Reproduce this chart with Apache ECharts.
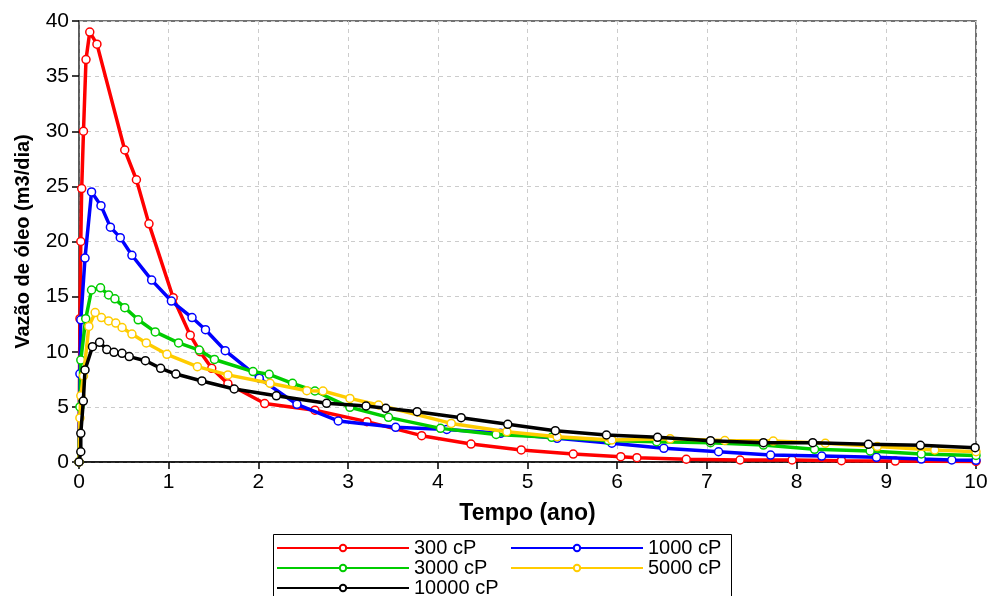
<!DOCTYPE html>
<html>
<head>
<meta charset="utf-8">
<script src="https://cdn.jsdelivr.net/npm/echarts@6/dist/echarts.min.js"></script>
<style>
html,body{margin:0;padding:0;background:#fff;}
#chart{width:992px;height:596px;}
</style>
</head>
<body>
<div id="chart"></div>
<script>
const seriesNames = ['300 cP', '1000 cP', '3000 cP', '5000 cP', '10000 cP'];
const legendRows = [['300 cP', '1000 cP'], ['3000 cP', '5000 cP'], ['10000 cP']];
const xTicks = [0,1,2,3,4,5,6,7,8,9,10];
const yTicks = [0,5,10,15,20,25,30,35,40];

const visc300 = [[0,0],[0.01,13],[0.02,20],[0.03,24.8],[0.05,30],[0.078,36.5],[0.12,39],[0.2,37.9],[0.51,28.3],[0.64,25.6],[0.78,21.6],[1.05,14.9],[1.24,11.5],[1.35,10.0],[1.48,8.5],[1.66,7.1],[2.07,5.3],[2.63,4.7],[3.21,3.66],[3.82,2.39],[4.37,1.63],[4.93,1.09],[5.51,0.72],[6.04,0.48],[6.22,0.39],[6.77,0.25],[7.37,0.18],[7.95,0.18],[8.5,0.12],[9.1,0.08],[10,0.05]];
const visc1000 = [[0,0],[0.01,8],[0.02,12.9],[0.067,18.5],[0.14,24.5],[0.245,23.25],[0.35,21.3],[0.46,20.35],[0.59,18.75],[0.81,16.5],[1.03,14.6],[1.26,13.1],[1.41,12.0],[1.63,10.1],[2.01,7.6],[2.43,5.23],[2.89,3.72],[3.53,3.15],[4.1,2.95],[4.7,2.6],[5.33,2.15],[5.94,1.7],[6.52,1.24],[7.13,0.93],[7.71,0.63],[8.28,0.54],[8.89,0.42],[9.39,0.27],[9.73,0.18],[10,0.15]];
const visc3000 = [[0,0],[0.01,5],[0.02,9.25],[0.075,13.0],[0.14,15.6],[0.24,15.8],[0.33,15.15],[0.4,14.8],[0.51,14.0],[0.66,12.9],[0.85,11.8],[1.11,10.8],[1.34,10.15],[1.51,9.3],[1.94,8.2],[2.12,7.95],[2.38,7.14],[2.63,6.44],[3.02,4.96],[3.45,4.05],[4.03,3.05],[4.65,2.5],[5.27,2.24],[5.9,1.95],[6.44,1.84],[7.04,1.75],[7.63,1.54],[8.2,1.15],[8.82,1.0],[9.39,0.73],[10,0.6]];
const visc5000 = [[0,0],[0.01,4],[0.02,6],[0.05,7.8],[0.11,12.3],[0.18,13.55],[0.25,13.1],[0.33,12.8],[0.41,12.6],[0.48,12.2],[0.59,11.6],[0.75,10.8],[0.98,9.77],[1.32,8.65],[1.66,7.9],[2.13,7.14],[2.54,6.47],[2.72,6.44],[3.02,5.77],[3.34,5.17],[4.15,3.5],[4.77,2.75],[5.33,2.3],[5.94,2.0],[6.59,2.1],[7.2,1.95],[7.74,1.9],[8.32,1.7],[8.9,1.4],[9.54,1.09],[10,0.93]];
const visc10000 = [[0,0],[0.02,0.93],[0.02,2.6],[0.048,5.53],[0.067,8.35],[0.15,10.46],[0.23,10.86],[0.31,10.2],[0.39,9.95],[0.48,9.86],[0.56,9.56],[0.74,9.19],[0.91,8.5],[1.08,7.98],[1.37,7.35],[1.73,6.62],[2.2,6.0],[2.76,5.32],[3.2,5.08],[3.42,4.87],[3.77,4.56],[4.26,4.02],[4.78,3.42],[5.31,2.84],[5.88,2.45],[6.45,2.24],[7.04,1.93],[7.63,1.75],[8.18,1.75],[8.8,1.6],[9.38,1.51],[9.99,1.3]];

const allData = [visc300, visc1000, visc3000, visc5000, visc10000];
const colors = ['#ff0000', '#0000ff', '#00cc00', '#ffcc00', '#000000'];

const chart = echarts.init(document.getElementById('chart'), null, {renderer: 'canvas'});
const font = 'Arial, "Liberation Sans", sans-serif';

const series = seriesNames.map((name, i) => ({
  name: name,
  type: 'line',
  data: allData[i],
  color: colors[i],
  symbol: 'circle',
  symbolSize: 8,
  showAllSymbol: true,
  lineStyle: {width: 3.5, color: colors[i]},
  itemStyle: {color: '#ffffff', borderColor: colors[i], borderWidth: 1.5},
  emphasis: {disabled: true},
  animation: false,
  z: 2 + i
}));

const legends = legendRows.map((row, r) => ({
  data: row,
  orient: 'horizontal',
  left: 276,
  top: 538 + r * 20,
  itemWidth: 132, itemHeight: 8, itemGap: 13,
  padding: 0,
  textStyle: {fontFamily: font, fontSize: 20, color: '#000', lineHeight: 17, width: 83},
  selectedMode: false
}));

chart.setOption({
  animation: false,
  backgroundColor: '#ffffff',
  grid: {left: 79, right: 16, top: 21, bottom: 134, show: true, borderColor: '#444', borderWidth: 1.5, backgroundColor: 'transparent'},
  xAxis: {
    type: 'value', min: xTicks[0], max: xTicks[xTicks.length - 1], interval: 1,
    name: 'Tempo (ano)', nameLocation: 'middle', nameGap: 40,
    nameTextStyle: {fontFamily: font, fontWeight: 'bold', fontSize: 23, color: '#000'},
    axisLine: {show: true, lineStyle: {color: '#000', width: 1.5}},
    axisTick: {show: true, length: 7, lineStyle: {color: '#000', width: 1.5}},
    axisLabel: {fontFamily: font, fontSize: 21, color: '#000', margin: 10},
    splitLine: {show: true, lineStyle: {color: '#cccccc', type: [4, 4], width: 1}}
  },
  yAxis: {
    type: 'value', min: yTicks[0], max: yTicks[yTicks.length - 1], interval: 5,
    name: 'Vazão de óleo (m3/dia)', nameLocation: 'middle', nameGap: 46,
    nameTextStyle: {fontFamily: font, fontWeight: 'bold', fontSize: 20, color: '#000'},
    axisLine: {show: true, lineStyle: {color: '#555', width: 1.5}},
    axisTick: {show: true, length: 7, lineStyle: {color: '#000', width: 1.5}},
    axisLabel: {fontFamily: font, fontSize: 21, color: '#000', margin: 10},
    splitLine: {show: true, lineStyle: {color: '#cccccc', type: [4, 4], width: 1}}
  },
  legend: legends,
  graphic: [{
    type: 'rect', left: 271, top: 532, silent: true,
    shape: {width: 458, height: 80},
    style: {fill: 'none', stroke: '#000', lineWidth: 1}
  }],
  series: series
});
</script>
</body>
</html>
